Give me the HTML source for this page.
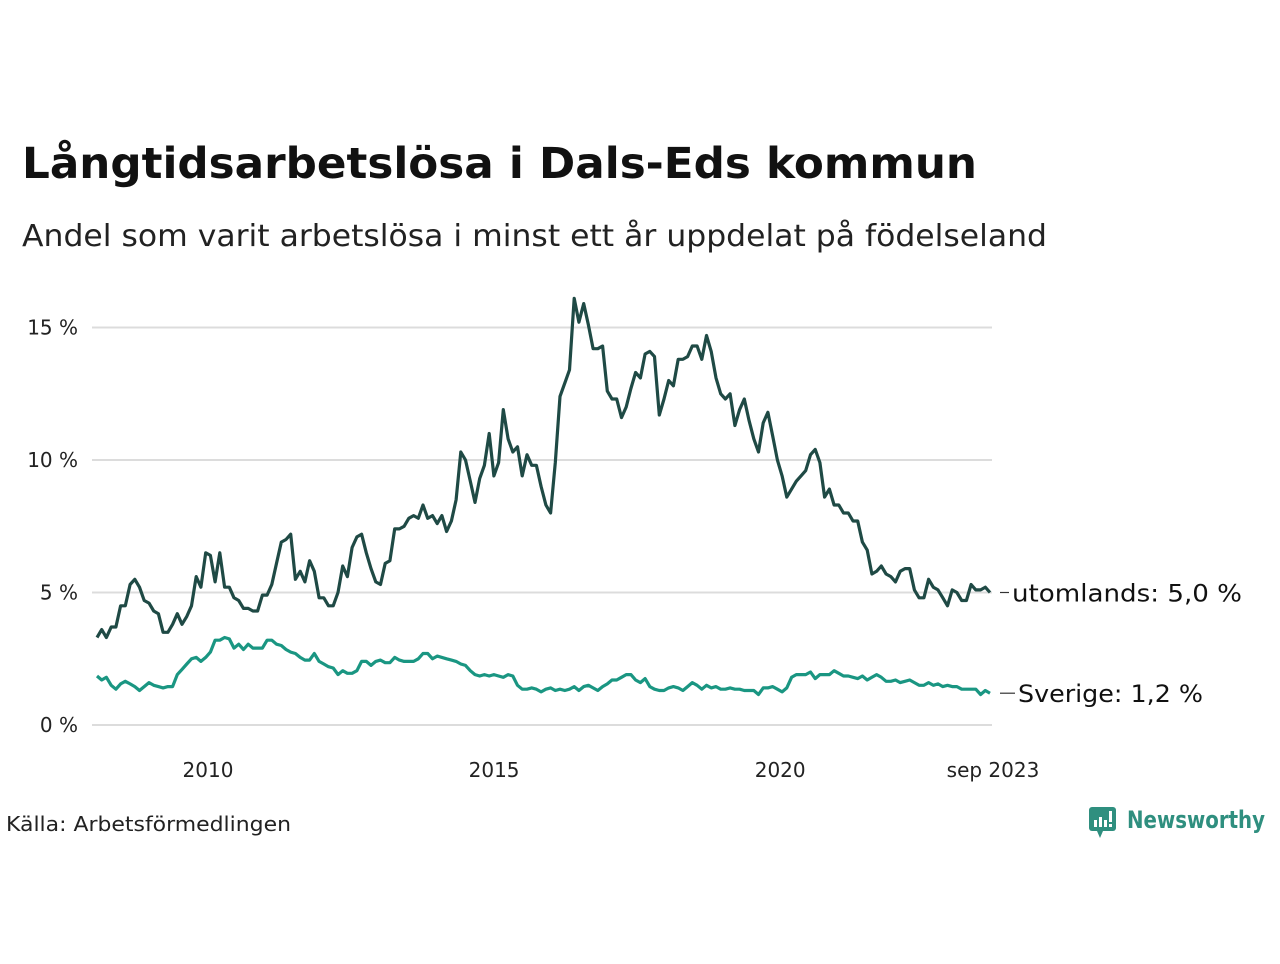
<!DOCTYPE html>
<html><head><meta charset="utf-8"><style>
body{margin:0;background:#fff;width:1280px;height:960px;overflow:hidden;font-family:"DejaVu Sans","Liberation Sans",sans-serif;}
text{font-family:"DejaVu Sans","Liberation Sans",sans-serif;}
</style></head><body>
<svg id="chart" width="1280" height="960" xmlns="http://www.w3.org/2000/svg">
<text x="22" y="178" font-size="43" font-weight="bold" fill="#111" textLength="955" lengthAdjust="spacingAndGlyphs">Långtidsarbetslösa i Dals-Eds kommun</text>
<text x="22" y="246" font-size="30" fill="#222" textLength="1025" lengthAdjust="spacingAndGlyphs">Andel som varit arbetslösa i minst ett år uppdelat på födelseland</text>
<g id="grid"></g><g id="yticks"></g><g id="xticks"></g><g id="lines"></g><g id="labels"></g>
<text x="6" y="831" font-size="20" fill="#222" textLength="285" lengthAdjust="spacingAndGlyphs">Källa: Arbetsförmedlingen</text>
<g>
<rect x="1089" y="807" width="27" height="24" rx="3" fill="#2f8f7f"/>
<polygon points="1097,831 1103,831 1100,838" fill="#2f8f7f"/>
<rect x="1094" y="820" width="3" height="7" fill="#fff"/><rect x="1099" y="817" width="3" height="10" fill="#fff"/><rect x="1104" y="820" width="3" height="7" fill="#fff"/><rect x="1109" y="811" width="3" height="11" fill="#fff"/><rect x="1109" y="824" width="3" height="3" fill="#fff"/>
<text x="1127" y="828" font-size="24" font-weight="bold" fill="#2f8f7f" textLength="138" lengthAdjust="spacingAndGlyphs">Newsworthy</text>
</g>
</svg>
<script>
const foreignValues=[3.3,3.6,3.3,3.7,3.7,4.5,4.5,5.3,5.5,5.2,4.7,4.6,4.3,4.2,3.5,3.5,3.8,4.2,3.8,4.1,4.5,5.6,5.2,6.5,6.4,5.4,6.5,5.2,5.2,4.8,4.7,4.4,4.4,4.3,4.3,4.9,4.9,5.3,6.1,6.9,7.0,7.2,5.5,5.8,5.4,6.2,5.8,4.8,4.8,4.5,4.5,5.0,6.0,5.6,6.7,7.1,7.2,6.5,5.9,5.4,5.3,6.1,6.2,7.4,7.4,7.5,7.8,7.9,7.8,8.3,7.8,7.9,7.6,7.9,7.3,7.7,8.5,10.3,10.0,9.2,8.4,9.3,9.8,11.0,9.4,9.9,11.9,10.8,10.3,10.5,9.4,10.2,9.8,9.8,9.0,8.3,8.0,9.9,12.4,12.9,13.4,16.1,15.2,15.9,15.1,14.2,14.2,14.3,12.6,12.3,12.3,11.6,12.0,12.7,13.3,13.1,14.0,14.1,13.9,11.7,12.3,13.0,12.8,13.8,13.8,13.9,14.3,14.3,13.8,14.7,14.1,13.1,12.5,12.3,12.5,11.3,11.9,12.3,11.5,10.8,10.3,11.4,11.8,10.9,10.0,9.4,8.6,8.9,9.2,9.4,9.6,10.2,10.4,9.9,8.6,8.9,8.3,8.3,8.0,8.0,7.7,7.7,6.9,6.6,5.7,5.8,6.0,5.7,5.6,5.4,5.8,5.9,5.9,5.1,4.8,4.8,5.5,5.2,5.1,4.8,4.5,5.1,5.0,4.7,4.7,5.3,5.1,5.1,5.2,5.0];
const swedenValues=[1.85,1.7,1.8,1.5,1.35,1.55,1.65,1.55,1.45,1.3,1.45,1.6,1.5,1.45,1.4,1.45,1.45,1.9,2.1,2.3,2.5,2.55,2.4,2.55,2.75,3.2,3.2,3.3,3.25,2.9,3.05,2.85,3.05,2.9,2.9,2.9,3.2,3.2,3.05,3.0,2.85,2.75,2.7,2.55,2.45,2.45,2.7,2.4,2.3,2.2,2.15,1.9,2.05,1.95,1.95,2.05,2.4,2.4,2.25,2.4,2.45,2.35,2.35,2.55,2.45,2.4,2.4,2.4,2.5,2.7,2.7,2.5,2.6,2.55,2.5,2.45,2.4,2.3,2.25,2.05,1.9,1.85,1.9,1.85,1.9,1.85,1.8,1.9,1.85,1.5,1.35,1.35,1.4,1.35,1.25,1.35,1.4,1.3,1.35,1.3,1.35,1.45,1.3,1.45,1.5,1.4,1.3,1.45,1.55,1.7,1.7,1.8,1.9,1.9,1.7,1.6,1.75,1.45,1.35,1.3,1.3,1.4,1.45,1.4,1.3,1.45,1.6,1.5,1.35,1.5,1.4,1.45,1.35,1.35,1.4,1.35,1.35,1.3,1.3,1.3,1.15,1.4,1.4,1.45,1.35,1.25,1.4,1.8,1.9,1.9,1.9,2.0,1.75,1.9,1.9,1.9,2.05,1.95,1.85,1.85,1.8,1.75,1.85,1.7,1.8,1.9,1.8,1.65,1.65,1.7,1.6,1.65,1.7,1.6,1.5,1.5,1.6,1.5,1.55,1.45,1.5,1.45,1.45,1.35,1.35,1.35,1.35,1.15,1.3,1.2];
const yTicks=[0,5,10,15];
const yTickLabels=["0 %","5 %","10 %","15 %"];
const xTicks=[2010,2015,2020];
const xTickLabels=["2010","2015","2020"];
const lastLabel="sep 2023";
const seriesNames=["utomlands","Sverige"];
const tStart=2008.06,tEnd=2023.667;
const NS="http://www.w3.org/2000/svg";
const X0=97,X1=990,plotL=92,plotR=992;
function xScale(t){return X0+(t-tStart)/(tEnd-tStart)*(X1-X0);}
function yScale(v){return 725-v*26.5;}
function idxT(i,n){return tStart+i*(tEnd-tStart)/(n-1);}
function mk(tag,attrs,parent){const e=document.createElementNS(NS,tag);for(const k in attrs)e.setAttribute(k,attrs[k]);parent.appendChild(e);return e;}
const grid=document.getElementById('grid'),yt=document.getElementById('yticks'),xt=document.getElementById('xticks'),lines=document.getElementById('lines'),labels=document.getElementById('labels');
yTicks.forEach((v,i)=>{
 const l=mk('line',{x1:plotL,x2:plotR,y1:yScale(v),y2:yScale(v),stroke:'#dcdcdc','stroke-width':2},grid);
 
 
 const t=mk('text',{x:78,y:yScale(v)+7,'text-anchor':'end','font-size':20,fill:'#222'},yt);
 t.textContent=yTickLabels[i];
 
 
});
xTicks.forEach((v,i)=>{
 const t=mk('text',{x:xScale(v),y:777,'text-anchor':'middle','font-size':20,fill:'#222'},xt);
 t.textContent=xTickLabels[i];
 
 
});
const lt=mk('text',{x:xScale(tEnd)+3,y:777,'text-anchor':'middle','font-size':20,fill:'#222'},xt);
lt.textContent=lastLabel;


function draw(vals,color,name){
 const d=vals.map((v,i)=>(i?'L':'M')+xScale(idxT(i,vals.length)).toFixed(1)+','+yScale(v).toFixed(1)).join(' ');
 const p=mk('path',{d:d,fill:'none',stroke:color,'stroke-width':3.2,'stroke-linejoin':'round'},lines);
 
 
}
draw(swedenValues,'#1a9682','line-sverige');
draw(foreignValues,'#1f4a45','line-utomlands');
function endLabel(vals,txt,name,tx,len){
 const last=vals[vals.length-1];
 const y=yScale(last);
 mk('line',{x1:1000,x2:tx-3,y1:y,y2:y,stroke:'#333','stroke-width':1.2},labels);
 const t=mk('text',{x:tx,y:y+9,'font-size':24,fill:'#111',textLength:len,lengthAdjust:'spacingAndGlyphs'},labels);
 t.textContent=txt+': '+last.toFixed(1).replace('.',',')+' %';
 
 
}
endLabel(foreignValues,seriesNames[0],'label-utomlands',1012,230);
endLabel(swedenValues,seriesNames[1],'label-sverige',1018,185);
</script>
</body></html>
